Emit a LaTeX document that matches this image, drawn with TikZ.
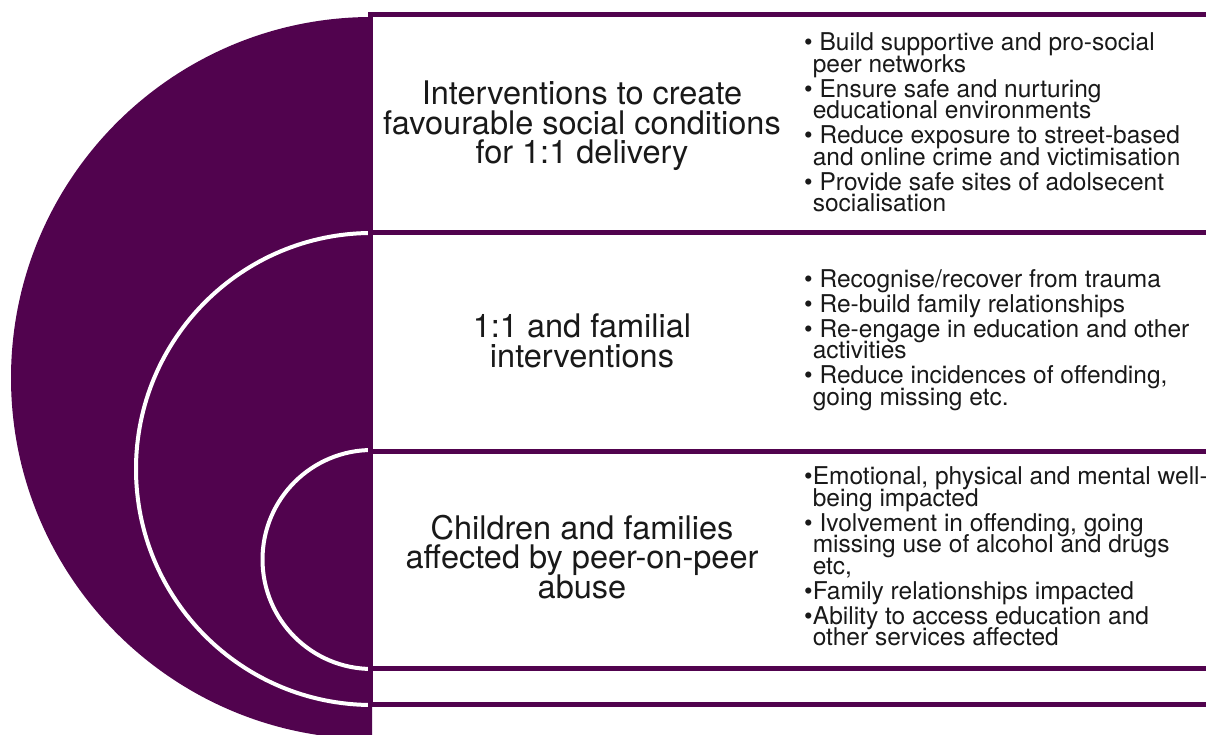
\documentclass[tikz,border=0pt]{standalone}
\usepackage{fontspec}
\setmainfont{TeX Gyre Heros}
\definecolor{lila}{HTML}{51034E}
\newcommand{\ein}{\phantom{\textbullet}}
\newcommand{\eng}{\lineskiplimit=-100pt\relax}
\begin{document}
\begin{tikzpicture}[x=1pt,y=1pt,
  mitte/.style={align=center,font=\fontsize{32.5}{29.5}\selectfont\eng,text=black!90},
  liste/.style={align=left,anchor=west,inner sep=0pt,font=\fontsize{24.5}{21.5}\selectfont\eng,text=black!90}]
\useasboundingbox (0,0) rectangle (1206,735);
% grosser Halbkreis links
\fill[lila] (372,718) arc[start angle=90,end angle=270,radius=361] -- cycle;
% weisse Boegen fuer die inneren Ringe
\draw[white,line width=4] (372,502) arc[start angle=90,end angle=270,radius=236];
\draw[white,line width=4] (372,285) arc[start angle=90,end angle=270,radius=109.5];
% Kaesten rechts, nach rechts offen
\draw[lila,line width=5] (370,720) rectangle (1215,502);
\draw[lila,line width=5] (370,502) rectangle (1215,283);
\draw[lila,line width=5] (370,283) rectangle (1215,66);
\draw[lila,line width=5] (370,66) rectangle (1215,30);
% Titel der Ebenen
\node[mitte] (aussen) at (582,609) {Interventions to create\\favourable social conditions\\for 1:1 delivery};
\node[mitte] (mitteR) at (582,394) {1:1 and familial\\interventions};
\node[mitte] (innen) at (582,178) {Children and families\\affected by peer-on-peer\\abuse};
% Stichpunkte
\node[liste] (lA) at (804,612.5) {\textbullet\ Build supportive and pro-social\\
\ein peer networks\\[3.5pt]
\textbullet\ Ensure safe and nurturing\\
\ein educational environments\\[3.5pt]
\textbullet\ Reduce exposure to street-based\\
\ein and online crime and victimisation\\[3.5pt]
\textbullet\ Provide safe sites of adolsecent\\
\ein socialisation};
\node[liste] (lB) at (804,395) {\textbullet\ Recognise/recover from trauma\\[3.5pt]
\textbullet\ Re-build family relationships\\[3.5pt]
\textbullet\ Re-engage in education and other\\
\ein activities\\[3.5pt]
\textbullet\ Reduce incidences of offending,\\
\ein going missing etc.};
\node[liste] (lC) at (804,178.5) {\textbullet Emotional, physical and mental well-\\
\ein being impacted\\[3.5pt]
\textbullet\ Ivolvement in offending, going\\
\ein missing use of alcohol and drugs\\
\ein etc,\\[3.5pt]
\textbullet Family relationships impacted\\[3.5pt]
\textbullet Ability to access education and\\
\ein other services affected};
\end{tikzpicture}
\end{document}
